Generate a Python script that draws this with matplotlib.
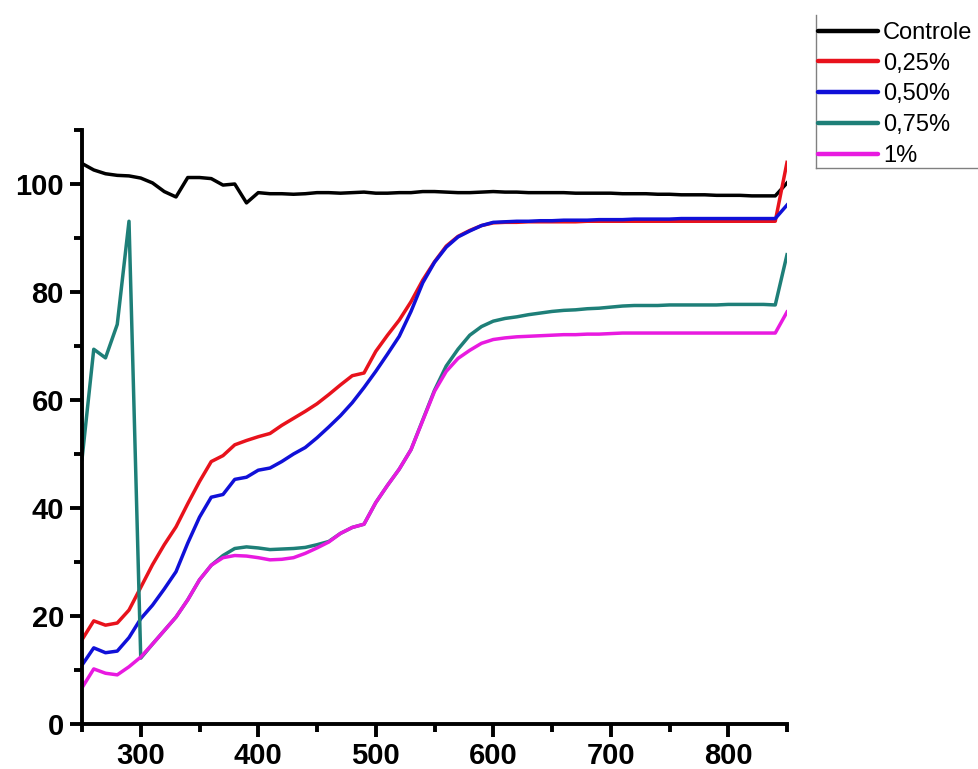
import numpy as np
import matplotlib
matplotlib.use("Agg")
import matplotlib.pyplot as plt
from matplotlib.ticker import MultipleLocator
from matplotlib.lines import Line2D

wavelength = list(range(250, 851, 10))

controle = [103.8, 102.6, 101.9, 101.6, 101.5, 101.1, 100.2, 98.6, 97.6, 101.2,
            101.2, 101.0, 99.8, 100.0, 96.5, 98.4, 98.2, 98.2, 98.1, 98.2,
            98.4, 98.4, 98.3, 98.4, 98.5, 98.3, 98.3, 98.4, 98.4, 98.6,
            98.6, 98.5, 98.4, 98.4, 98.5, 98.6, 98.5, 98.5, 98.4, 98.4,
            98.4, 98.4, 98.3, 98.3, 98.3, 98.3, 98.2, 98.2, 98.2, 98.1,
            98.1, 98.0, 98.0, 98.0, 97.9, 97.9, 97.9, 97.8, 97.8, 97.8,
            100.2]

c025 = [15.6, 19.1, 18.3, 18.7, 21.1, 25.3, 29.5, 33.2, 36.5, 40.8,
        44.9, 48.6, 49.7, 51.7, 52.5, 53.2, 53.8, 55.3, 56.6, 57.9,
        59.3, 61.0, 62.8, 64.5, 65.0, 69.0, 72.0, 74.8, 78.2, 82.2,
        85.6, 88.5, 90.3, 91.4, 92.3, 92.8, 92.9, 92.9, 93.0, 93.0,
        93.0, 93.0, 93.0, 93.1, 93.1, 93.1, 93.1, 93.1, 93.1, 93.1,
        93.1, 93.1, 93.1, 93.1, 93.1, 93.1, 93.1, 93.1, 93.1, 93.1,
        104.0]

c050 = [10.9, 14.1, 13.2, 13.5, 16.0, 19.5, 22.0, 25.0, 28.2, 33.5,
        38.3, 42.0, 42.5, 45.3, 45.7, 47.0, 47.4, 48.6, 50.0, 51.2,
        53.0, 55.0, 57.1, 59.5, 62.3, 65.3, 68.5, 71.8, 76.4, 81.7,
        85.5, 88.3, 90.2, 91.3, 92.3, 92.9, 93.0, 93.1, 93.1, 93.2,
        93.2, 93.3, 93.3, 93.3, 93.4, 93.4, 93.4, 93.5, 93.5, 93.5,
        93.5, 93.6, 93.6, 93.6, 93.6, 93.6, 93.6, 93.6, 93.6, 93.6,
        96.1]

c075 = [49.0, 69.4, 67.8, 74.0, 93.1, 12.2, 14.8, 17.3, 19.8, 23.0,
        26.7, 29.4, 31.2, 32.5, 32.8, 32.6, 32.3, 32.4, 32.5, 32.7,
        33.2, 33.8, 35.3, 36.4, 37.0, 41.0, 44.2, 47.2, 50.8, 56.3,
        61.8, 66.3, 69.4, 72.0, 73.6, 74.6, 75.1, 75.4, 75.8, 76.1,
        76.4, 76.6, 76.7, 76.9, 77.0, 77.2, 77.4, 77.5, 77.5, 77.5,
        77.6, 77.6, 77.6, 77.6, 77.6, 77.7, 77.7, 77.7, 77.7, 77.6,
        86.9]

c100 = [6.7, 10.2, 9.4, 9.1, 10.6, 12.4, 14.8, 17.3, 19.8, 23.0,
        26.7, 29.4, 30.8, 31.2, 31.1, 30.8, 30.4, 30.5, 30.8, 31.6,
        32.6, 33.7, 35.3, 36.4, 37.0, 41.0, 44.2, 47.2, 50.8, 56.2,
        61.6, 65.3, 67.7, 69.2, 70.5, 71.2, 71.5, 71.7, 71.8, 71.9,
        72.0, 72.1, 72.1, 72.2, 72.2, 72.3, 72.4, 72.4, 72.4, 72.4,
        72.4, 72.4, 72.4, 72.4, 72.4, 72.4, 72.4, 72.4, 72.4, 72.4,
        76.3]

labels = ["Controle", "0,25%", "0,50%", "0,75%", "1%"]
colors = ["#000000", "#e8121c", "#1010d8", "#1e7f78", "#e81ae0"]
series = [controle, c025, c050, c075, c100]

plt.rcParams['font.family'] = ['Liberation Sans', 'DejaVu Sans']

fig = plt.figure(figsize=(9.79, 7.69), dpi=100)
ax = fig.add_axes([82/979, 1-724/769, (787-82)/979, (724-130)/769])

for lab, col, s in zip(labels, colors, series):
    ax.plot(wavelength, s, color=col, lw=2.5, label=lab, solid_joinstyle='round')

ax.set_xlim(250, 850)
ax.set_ylim(0, 110)
ax.xaxis.set_major_locator(MultipleLocator(100))
ax.xaxis.set_minor_locator(MultipleLocator(50))
ax.yaxis.set_major_locator(MultipleLocator(20))
ax.yaxis.set_minor_locator(MultipleLocator(10))
for side in ['top', 'right']:
    ax.spines[side].set_visible(False)
for side in ['left', 'bottom']:
    ax.spines[side].set_linewidth(2.8)
ax.tick_params(which='major', direction='out', length=9, width=2.8,
               labelsize=21, pad=4)
ax.tick_params(which='minor', direction='out', length=5.5, width=2.8)
for t in ax.get_xticklabels() + ax.get_yticklabels():
    t.set_fontweight('bold')

leg_handles = [Line2D([0], [0], color=c, lw=3.2, solid_capstyle='round') for c in colors]
leg = fig.legend(leg_handles, labels, loc='upper left',
                 bbox_to_anchor=(818/979, 1-22/769), frameon=False,
                 fontsize=17, handlelength=2.55, handletextpad=0.2,
                 labelspacing=0.37, borderpad=0.0, borderaxespad=0.0)

# legend box border (left and bottom edges visible; right edge cropped)
fig.add_artist(Line2D([816/979, 816/979], [1-15/769, 1-168/769],
                      transform=fig.transFigure, color='#808080', lw=1.0))
fig.add_artist(Line2D([816/979, 1.0], [1-168/769, 1-168/769],
                      transform=fig.transFigure, color='#808080', lw=1.0))

fig.savefig("out.png", dpi=100)
